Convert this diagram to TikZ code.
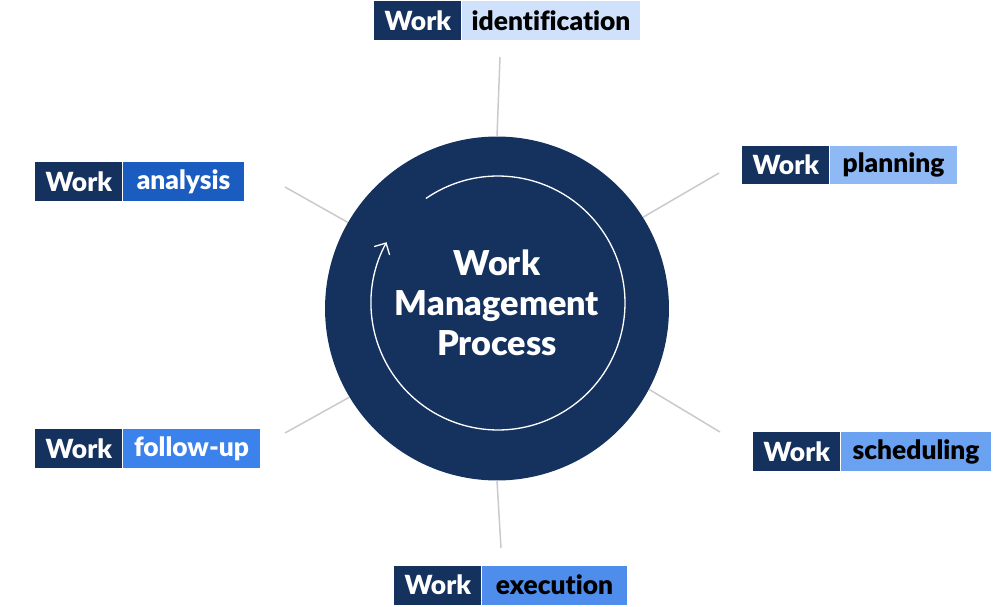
\documentclass[tikz,border=0pt]{standalone}
\usepackage{fontspec}
\IfFontExistsTF{Lato Black}
  {\setmainfont{Lato}[BoldFont={Lato Black},Ligatures=NoCommon]}
  {\setmainfont{Lato}[Ligatures=NoCommon]}
\usetikzlibrary{positioning,arrows.meta}
\definecolor{navy}{HTML}{15325F}
\definecolor{spoke}{HTML}{C9C9CE}
\definecolor{identcol}{HTML}{D0E1FC}
\definecolor{analysiscol}{HTML}{1A5CC0}
\definecolor{planningcol}{HTML}{8EB9F5}
\definecolor{followcol}{HTML}{3B82EC}
\definecolor{schedcol}{HTML}{6AA1F1}
\definecolor{execcol}{HTML}{4E8DEC}
\begin{document}
\begin{tikzpicture}[x=0.02cm,y=0.02cm]

    \tikzset{
      workbox/.style={
        fill=navy,
        text=white,
        font=\fontsize{15}{17}\selectfont\bfseries,
        minimum width=1.74cm,
        minimum height=0.78cm,
        inner sep=0pt,
        anchor=west,
      },
      tagbox/.style={
        font=\fontsize{15}{17}\selectfont\bfseries,
        minimum height=0.78cm,
        inner sep=0pt,
        right=0pt of #1,
      },
      spokeline/.style={
        draw=spoke,
        line width=0.85pt,
      },
    }
    \useasboundingbox (0,0) rectangle (1000,606);

    % hub
    \node[circle,fill=navy,minimum size=6.88cm,inner sep=0pt] (hub) at (497,297.5) {};
    \coordinate (ring) at (498,303);
    \draw[white,line width=0.75pt,-{Straight Barb[length=5pt,width=10pt]}]
      ([shift={(124.6:2.54cm)}]ring) arc[start angle=124.6,end angle=-208.6,radius=2.54cm];
    \node[text=white,align=center,font=\fontsize{19.5}{22.7}\selectfont\bfseries] (title) at (497,303)
      {Work\\Management\\Process};

    % labels
    \node[workbox] (identW) at (374,585.5) {Work};
    \node[tagbox=identW,fill=identcol,text=black,minimum width=3.56cm] (identT) {identification};

    \node[workbox] (planW) at (742,441) {Work};
    \node[tagbox=planW,fill=planningcol,text=black,minimum width=2.54cm] (planT) {planning};

    \node[workbox] (schedW) at (753,154.5) {Work};
    \node[tagbox=schedW,fill=schedcol,text=black,minimum width=3.0cm] (schedT) {scheduling};

    \node[workbox] (execW) at (394,21) {Work};
    \node[tagbox=execW,fill=execcol,text=black,minimum width=2.9cm] (execT) {execution};

    \node[workbox] (followW) at (35,157.5) {Work};
    \node[tagbox=followW,fill=followcol,text=white,minimum width=2.74cm] (followT) {follow-up};

    \node[workbox] (analysisW) at (35,424.5) {Work};
    \node[tagbox=analysisW,fill=analysiscol,text=white,minimum width=2.42cm] (analysisT) {analysis};

    % spokes
    \coordinate (identE) at (500,549);
    \coordinate (planE) at (719,433);
    \coordinate (schedE) at (720,174);
    \coordinate (execE) at (501,58);
    \coordinate (followE) at (285,173);
    \coordinate (analysisE) at (285,419);
    \draw[spokeline] (hub.90) -- (identE);
    \draw[spokeline] (hub.32) -- (planE);
    \draw[spokeline] (hub.-28) -- (schedE);
    \draw[spokeline] (hub.-90) -- (execE);
    \draw[spokeline] (hub.211) -- (followE);
    \draw[spokeline] (hub.150) -- (analysisE);

\end{tikzpicture}
\end{document}
